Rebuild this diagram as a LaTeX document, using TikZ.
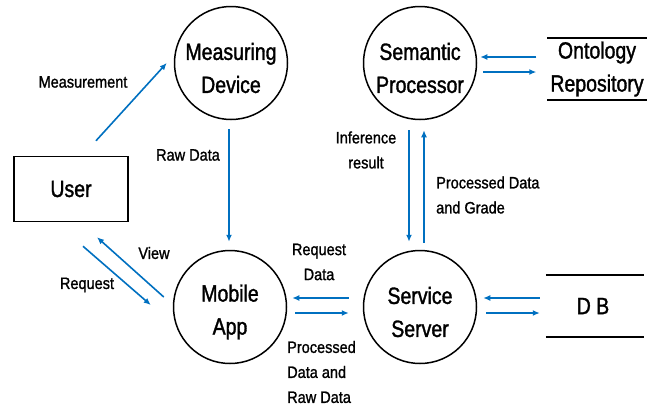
\documentclass[tikz,border=0pt]{standalone}
\usepackage{fontspec}
\setmainfont{Liberation Sans}
\newfontfamily\bigfont{Liberation Sans}[FakeStretch=0.83,FakeBold=1.4]
\newfontfamily\labfont{Liberation Sans}[FakeStretch=0.88,FakeBold=1.2]
\usetikzlibrary{arrows.meta}
\definecolor{flowblue}{RGB}{0,112,192}
\tikzset{
  proc/.style={circle, draw=black, line width=1.5pt, minimum size=113pt, inner sep=0pt},
  proctext/.style={align=center, inner sep=0pt, font=\bigfont\fontsize{23.5}{33}\selectfont},
  extent/.style={rectangle, draw=black, line width=1.5pt, minimum width=114pt, minimum height=65pt,
    inner sep=0pt, font=\bigfont\fontsize{23.5}{33}\selectfont},
  store/.style={rectangle, inner sep=0pt, align=center,
    font=\bigfont\fontsize{23.5}{33}\selectfont},
  storeline/.style={line width=1.5pt, draw=black},
  flow/.style={draw=flowblue, line width=1.6pt, -{Latex[length=7pt,width=6pt]}},
  lab/.style={font=\labfont\fontsize{16.5}{25}\selectfont, inner sep=0pt, text=black},
}
\begin{document}
\begin{tikzpicture}[x=1pt,y=-1pt]
\useasboundingbox (0,0) rectangle (660,407);

% processes, each circle with its caption set slightly below centre
\node[proc] (md) at (231,63) {};
\node[proctext] (mdt) at ([yshift=-5pt]md.center) {Measuring\\Device};
\node[proc] (sp) at (420,63) {};
\node[proctext] (spt) at ([yshift=-5pt]sp.center) {Semantic\\Processor};
\node[proc] (mob) at (230,307) {};
\node[proctext] (mobt) at ([yshift=-5pt]mob.center) {Mobile\\App};
\node[proc] (ss) at (420,307) {};
\node[proctext] (sst) at ([yshift=-5pt]ss.center) {Service\\Server};

% external entity
\node[extent] (user) at (71,189) {User};

% data stores
\node[store, minimum width=99pt, minimum height=62pt] (ont) at (597,69) {Ontology\\Repository};
\draw[storeline] (ont.north west) -- (ont.north east);
\draw[storeline] (ont.south west) -- (ont.south east);
\node[store, minimum width=98pt, minimum height=62pt] (db) at (593,306) {D B};
\draw[storeline] ([xshift=2pt]db.north west) -- ([xshift=2pt]db.north east);
\draw[storeline] ([xshift=2pt]db.south west) -- ([xshift=2pt]db.south east);

% data flows
\draw[flow] ([shift={(25pt,15pt)}]user.north) -- ([xshift=-7pt]md.west);
\draw[flow] ([shift={(-2pt,-9pt)}]md.south) -- ([shift={(-1pt,8pt)}]mob.north);
\draw[flow] ([shift={(-9pt,10pt)}]mob.west) -- ([shift={(26pt,-15pt)}]user.south);
\draw[flow] ([shift={(12pt,-24pt)}]user.south) -- ([shift={(-22pt,2pt)}]mob.west);
\draw[flow] ([shift={(-14pt,9pt)}]ss.west) -- ([shift={(5pt,9pt)}]mob.east);
\draw[flow] ([shift={(8pt,-6pt)}]mob.east) -- ([shift={(-14pt,-6pt)}]ss.west);
\draw[flow] ([shift={(-11pt,-10pt)}]sp.south) -- ([shift={(-11pt,8pt)}]ss.north);
\draw[flow] ([shift={(4pt,7pt)}]ss.north) -- ([shift={(4pt,-10pt)}]sp.south);
\draw[flow] ([shift={(-11pt,12pt)}]ont.west) -- ([shift={(3pt,6pt)}]sp.east);
\draw[flow] ([shift={(6pt,-9pt)}]sp.east) -- ([shift={(-11pt,-3pt)}]ont.west);
\draw[flow] ([shift={(-4pt,8pt)}]db.west) -- ([shift={(6pt,9pt)}]ss.east);
\draw[flow] ([shift={(9pt,-6pt)}]ss.east) -- ([shift={(-4pt,-7pt)}]db.west);

% flow labels
\node[lab] (lmeas) at (83,82) {Measurement};
\node[lab] (lraw) at (188,155) {Raw Data};
\node[lab] (lview) at (154,253) {View};
\node[lab] (lreq) at (87,285) {Request};
\node[lab, align=center] (lreqd) at (319,262) {Request\\Data};
\node[lab, align=left, anchor=west] (lproc) at (287,372) {Processed\\Data and\\Raw Data};
\node[lab, align=center] (linf) at (366,150) {Inference\\result};
\node[lab, align=left, anchor=west] (lgrade) at (436,195) {Processed Data\\and Grade};
\end{tikzpicture}
\end{document}
